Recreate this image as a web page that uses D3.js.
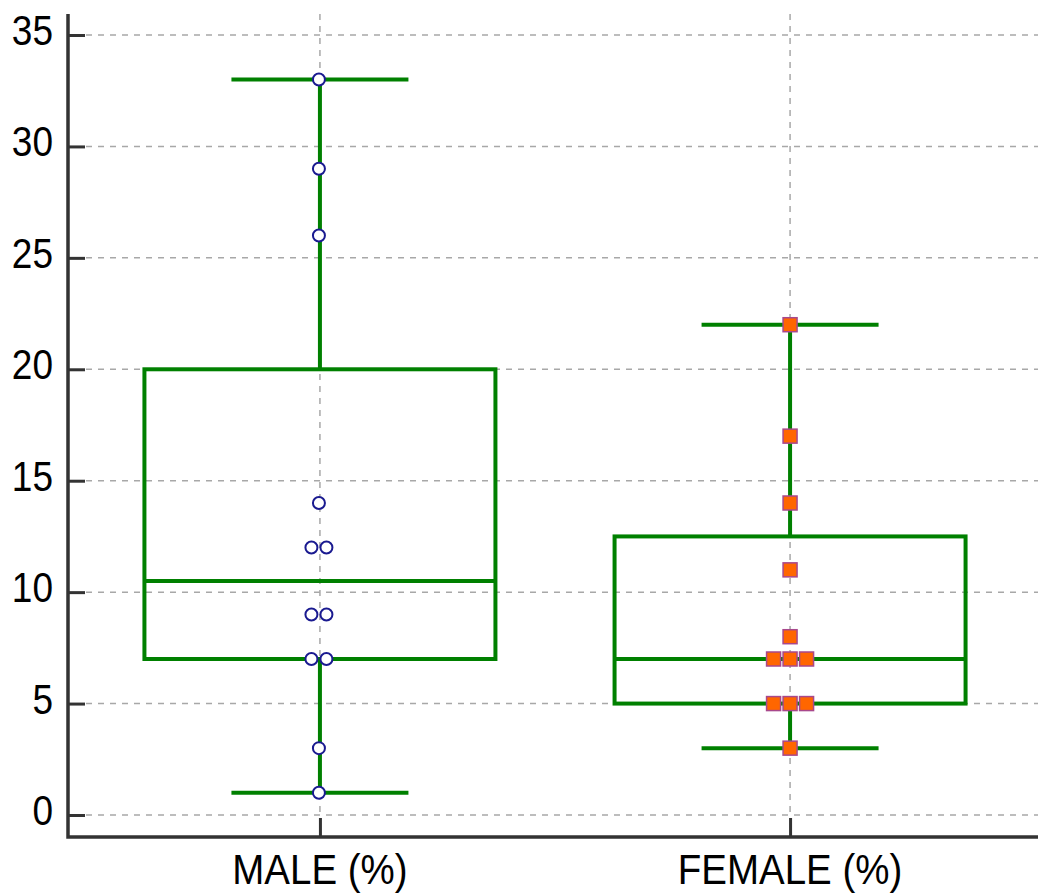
<!DOCTYPE html>
<html>
<head>
<meta charset="utf-8">
<script src="https://cdn.jsdelivr.net/npm/d3@7"></script>
<style>
  body { margin: 0; background: #fff; }
  svg { display: block; }
</style>
</head>
<body>
<script>

// DATI

var categories = ["MALE (%)", "FEMALE (%)"];
var maleValues = [1, 3, 7, 7, 9, 9, 12, 12, 14, 26, 29, 33];
var femaleValues = [3, 5, 5, 5, 7, 7, 7, 8, 11, 14, 17, 22];
// min, Q1, mediana, Q3, max
var boxStats = [
    [1, 7, 10.5, 20, 33],
    [3, 5, 7, 12.5, 22]
];
var yTicks = [0, 5, 10, 15, 20, 25, 30, 35];


// INIZIALIZZA L'SVG

var width = 1038, height = 895;

var svg = d3.select("body")
    .append("svg")
    .attr("width", width)
    .attr("height", height);

var y = d3.scaleLinear()
    .domain([0, 35])
    .range([815, 35]);

var x = d3.scalePoint()
    .domain(categories)
    .range([67, 1043])
    .padding(0.538);

var boxWidth = 351;
var capWidth = 177;
var green = "#008000";


// GRIGLIA

svg.append("g")
    .selectAll("line")
    .data(yTicks)
    .enter()
    .append("line")
    .attr("x1", 86)
    .attr("x2", width)
    .attr("y1", function(d) { return y(d); })
    .attr("y2", function(d) { return y(d); })
    .attr("stroke", "#a8a8a8")
    .attr("stroke-width", 1.5)
    .attr("stroke-dasharray", "6,6");

svg.append("g")
    .selectAll("line")
    .data(categories)
    .enter()
    .append("line")
    .attr("x1", function(d) { return x(d); })
    .attr("x2", function(d) { return x(d); })
    .attr("y1", 14)
    .attr("y2", 818)
    .attr("stroke", "#a8a8a8")
    .attr("stroke-width", 1.5)
    .attr("stroke-dasharray", "6,6");


// BOX PLOT

var boxes = svg.append("g")
    .selectAll("g")
    .data(boxStats)
    .enter()
    .append("g");

// baffi
boxes.append("line")
    .attr("x1", function(d, i) { return x(categories[i]); })
    .attr("x2", function(d, i) { return x(categories[i]); })
    .attr("y1", function(d) { return y(d[4]); })
    .attr("y2", function(d) { return y(d[3]); })
    .attr("stroke", green)
    .attr("stroke-width", 4);

boxes.append("line")
    .attr("x1", function(d, i) { return x(categories[i]); })
    .attr("x2", function(d, i) { return x(categories[i]); })
    .attr("y1", function(d) { return y(d[1]); })
    .attr("y2", function(d) { return y(d[0]); })
    .attr("stroke", green)
    .attr("stroke-width", 4);

// estremi dei baffi
[0, 4].forEach(function(k) {
    boxes.append("line")
        .attr("x1", function(d, i) { return x(categories[i]) - capWidth / 2; })
        .attr("x2", function(d, i) { return x(categories[i]) + capWidth / 2; })
        .attr("y1", function(d) { return y(d[k]); })
        .attr("y2", function(d) { return y(d[k]); })
        .attr("stroke", green)
        .attr("stroke-width", 4);
});

// scatola
boxes.append("rect")
    .attr("x", function(d, i) { return x(categories[i]) - boxWidth / 2; })
    .attr("y", function(d) { return y(d[3]); })
    .attr("width", boxWidth)
    .attr("height", function(d) { return y(d[1]) - y(d[3]); })
    .attr("fill", "none")
    .attr("stroke", green)
    .attr("stroke-width", 4);

// mediana
boxes.append("line")
    .attr("x1", function(d, i) { return x(categories[i]) - boxWidth / 2; })
    .attr("x2", function(d, i) { return x(categories[i]) + boxWidth / 2; })
    .attr("y1", function(d) { return y(d[2]); })
    .attr("y2", function(d) { return y(d[2]); })
    .attr("stroke", green)
    .attr("stroke-width", 4);


// PUNTI (i valori uguali sono affiancati)

function spread(values, gap) {
    var counts = d3.rollup(values, function(v) { return v.length; }, function(d) { return d; });
    var seen = new Map();
    return values.map(function(v) {
        var n = counts.get(v);
        var k = seen.get(v) || 0;
        seen.set(v, k + 1);
        return { value: v, offset: (k - (n - 1) / 2) * gap };
    });
}

svg.append("g")
    .selectAll("circle")
    .data(spread(maleValues, 15))
    .enter()
    .append("circle")
    .attr("cx", function(d) { return x(categories[0]) - 1 + d.offset; })
    .attr("cy", function(d) { return y(d.value); })
    .attr("r", 6)
    .attr("fill", "#fff")
    .attr("stroke", "#1a1a90")
    .attr("stroke-width", 2);

svg.append("g")
    .selectAll("rect")
    .data(spread(femaleValues, 16.5))
    .enter()
    .append("rect")
    .attr("x", function(d) { return x(categories[1]) + d.offset - 7; })
    .attr("y", function(d) { return y(d.value) - 7; })
    .attr("width", 14)
    .attr("height", 14)
    .attr("fill", "#ff6600")
    .attr("stroke", "#a8488c")
    .attr("stroke-width", 1.5);


// ASSI

var yAxis = d3.axisRight(y)
    .tickValues(yTicks)
    .tickSize(17)
    .tickFormat("");

svg.append("g")
    .attr("transform", "translate(68,0)")
    .call(yAxis)
    .call(function(g) {
        g.select(".domain").remove();
        g.selectAll(".tick line").attr("stroke", "#333").attr("stroke-width", 3);
    });

svg.append("g")
    .selectAll("text")
    .data(yTicks)
    .enter()
    .append("text")
    .attr("transform", function(d) { return "translate(53," + (y(d) + 10) + ") scale(1,1.16)"; })
    .attr("text-anchor", "end")
    .attr("font-family", "Liberation Sans, Arial, sans-serif")
    .attr("font-size", "37px")
    .attr("fill", "#000")
    .text(function(d) { return d; });

var xAxis = d3.axisTop(x)
    .tickSize(19)
    .tickFormat("");

svg.append("g")
    .attr("transform", "translate(0,837)")
    .call(xAxis)
    .call(function(g) {
        g.select(".domain").remove();
        g.selectAll(".tick line").attr("stroke", "#333").attr("stroke-width", 3);
    });

svg.append("g")
    .selectAll("text")
    .data(categories)
    .enter()
    .append("text")
    .attr("transform", function(d) { return "translate(" + x(d) + ",884) scale(1,1.12)"; })
    .attr("text-anchor", "middle")
    .attr("font-family", "Liberation Sans, Arial, sans-serif")
    .attr("font-size", "38.5px")
    .attr("fill", "#000")
    .text(function(d) { return d; });

// linee degli assi
svg.append("path")
    .attr("d", "M68,14V837H" + width)
    .attr("fill", "none")
    .attr("stroke", "#333")
    .attr("stroke-width", 3.5);

</script>
</body>
</html>
